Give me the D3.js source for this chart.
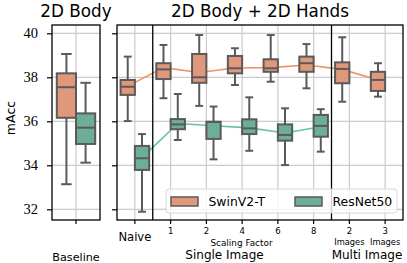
<!DOCTYPE html>
<html><head><meta charset="utf-8">
<script src="https://cdn.jsdelivr.net/npm/d3@7"></script>
<style>body{margin:0;background:#fff}svg{display:block}text{font-family:"DejaVu Sans",sans-serif}</style>
</head><body><svg id="c" width="407" height="263"></svg>
<script>
// ---- data ----
const series = ["SwinV2-T", "ResNet50"];
const baselineCats = ["Baseline"];
const cats = ["Naive", "1", "2", "4", "6", "8", "2 Images", "3 Images"];
const yTicks = [32, 34, 36, 38, 40];
// [whisker low, q1, median, q3, whisker high]
const swinBaseline = [33.14, 36.16, 37.55, 38.18, 39.06];
const resnetBaseline = [34.12, 34.97, 35.71, 36.36, 37.75];
const swinBoxes = [
  [36.01, 37.20, 37.57, 37.88, 38.94],
  [37.05, 37.92, 38.36, 38.64, 39.47],
  [36.70, 37.75, 38.00, 39.06, 39.92],
  [37.65, 38.18, 38.41, 38.97, 39.32],
  [37.80, 38.25, 38.41, 38.82, 39.92],
  [37.50, 38.25, 38.64, 38.94, 39.51],
  [36.89, 37.73, 38.38, 38.68, 39.82],
  [37.12, 37.38, 37.88, 38.25, 38.64]
];
const resnetBoxes = [
  [31.89, 33.79, 34.32, 34.88, 35.42],
  [35.15, 35.64, 35.86, 36.10, 37.24],
  [34.27, 35.20, 35.97, 35.98, 36.67],
  [34.66, 35.42, 35.68, 36.09, 37.09],
  [34.01, 35.12, 35.38, 35.86, 36.59],
  [34.62, 35.30, 35.79, 36.29, 36.55],
  null, null
];
const swinMean = [37.60, 38.44, 38.22, 38.42, 38.44, 38.56, 38.36, 37.88];
const resnetMean = [34.35, 35.90, 35.80, 35.70, 35.47, 35.75];

// ---- styles ----
const fill = {"SwinV2-T": "#e0987c", "ResNet50": "#6cae98"};
const lineCol = {"SwinV2-T": "#f0906a", "ResNet50": "#66c2a5"};
const edge = "#5a5a5a";
const gridCol = "#cccccc";

const svg = d3.select("#c");
const pTop = 25, pBottom = 220;
const y = d3.scaleLinear().domain([32, 40]).range([209.3, 33.3]);

const x1 = d3.scaleBand().domain(baselineCats).range([52, 100]).padding(0);
const x2 = d3.scaleBand().domain(cats).range([117, 403]).padding(0);

function hueScale(bw) { return d3.scaleBand().domain(series).range([0.1 * bw, 0.9 * bw]).padding(0); }

function panel(x, x0, x1r) {
  const g = svg.append("g");
  g.selectAll(".hg").data(yTicks).join("line")
    .attr("x1", x0).attr("x2", x1r).attr("y1", d => y(d)).attr("y2", d => y(d))
    .attr("stroke", gridCol).attr("stroke-width", 1.2);
  g.selectAll(".vg").data(x.domain()).join("line")
    .attr("x1", d => x(d) + x.bandwidth() / 2).attr("x2", d => x(d) + x.bandwidth() / 2)
    .attr("y1", pTop).attr("y2", pBottom).attr("stroke", gridCol).attr("stroke-width", 1.2);
  return g;
}
const g1 = panel(x1, 52, 100);
const g2 = panel(x2, 117, 403);

function drawBox(g, cx, w, s, color) {
  if (!s) return;
  const [lo, q1, md, q3, hi] = s;
  const cw = w * 0.55;
  g.append("line").attr("x1", cx).attr("x2", cx).attr("y1", y(hi)).attr("y2", y(q3)).attr("stroke", edge).attr("stroke-width", 2);
  g.append("line").attr("x1", cx).attr("x2", cx).attr("y1", y(q1)).attr("y2", y(lo)).attr("stroke", edge).attr("stroke-width", 2);
  g.append("line").attr("x1", cx - cw / 2).attr("x2", cx + cw / 2).attr("y1", y(hi)).attr("y2", y(hi)).attr("stroke", edge).attr("stroke-width", 2);
  g.append("line").attr("x1", cx - cw / 2).attr("x2", cx + cw / 2).attr("y1", y(lo)).attr("y2", y(lo)).attr("stroke", edge).attr("stroke-width", 2);
  g.append("rect").attr("x", cx - w / 2).attr("y", y(q3)).attr("width", w).attr("height", y(q1) - y(q3))
    .attr("fill", color).attr("stroke", edge).attr("stroke-width", 2);
  g.append("line").attr("x1", cx - w / 2).attr("x2", cx + w / 2).attr("y1", y(md)).attr("y2", y(md)).attr("stroke", edge).attr("stroke-width", 2);
}

{
  const bw = x1.bandwidth(), h = hueScale(bw);
  const c = baselineCats[0];
  drawBox(g1, x1(c) + h("SwinV2-T") + h.bandwidth() / 2, h.bandwidth(), swinBaseline, fill["SwinV2-T"]);
  drawBox(g1, x1(c) + h("ResNet50") + h.bandwidth() / 2, h.bandwidth(), resnetBaseline, fill["ResNet50"]);
}
{
  const bw = x2.bandwidth(), h = hueScale(bw);
  const cxs = s => d => x2(d) + h(s) + h.bandwidth() / 2;
  const line = (s, vals) => d3.line().x((v, i) => cxs(s)(cats[i])).y(v => y(v))(vals);
  g2.append("path").attr("d", line("SwinV2-T", swinMean)).attr("fill", "none").attr("stroke", lineCol["SwinV2-T"]).attr("stroke-width", 1.6);
  g2.append("path").attr("d", line("ResNet50", resnetMean)).attr("fill", "none").attr("stroke", lineCol["ResNet50"]).attr("stroke-width", 1.6);
  cats.forEach((c, i) => {
    drawBox(g2, cxs("SwinV2-T")(c), h.bandwidth(), swinBoxes[i], fill["SwinV2-T"]);
    drawBox(g2, cxs("ResNet50")(c), h.bandwidth(), resnetBoxes[i], fill["ResNet50"]);
  });
  [cats[1], cats[6]].forEach(c => {
    g2.append("line").attr("x1", x2(c)).attr("x2", x2(c)).attr("y1", pTop).attr("y2", pBottom).attr("stroke", "#000").attr("stroke-width", 1.3);
  });
}

[[52, 100], [117, 403]].forEach(([a, b]) => {
  svg.append("rect").attr("x", a).attr("y", pTop).attr("width", b - a).attr("height", pBottom - pTop)
    .attr("fill", "none").attr("stroke", "#000").attr("stroke-width", 1.3);
});

const yAxL = svg.append("g").attr("transform", "translate(52,0)")
  .call(d3.axisLeft(y).tickValues(yTicks).tickSize(5).tickPadding(9).tickFormat(d3.format("d")));
yAxL.select(".domain").remove();
yAxL.selectAll("line").attr("stroke", "#000").attr("stroke-width", 1.2);
yAxL.selectAll("text").style("font-family", "'Liberation Serif',serif").style("font-size", "14.5px").attr("fill", "#000");
const yAxR = svg.append("g").attr("transform", "translate(117,0)")
  .call(d3.axisLeft(y).tickValues(yTicks).tickSize(5).tickFormat(""));
yAxR.select(".domain").remove();
yAxR.selectAll("line").attr("stroke", "#000").attr("stroke-width", 1.2);

const xAx1 = svg.append("g").attr("transform", `translate(0,${pBottom})`).call(d3.axisBottom(x1).tickSize(4).tickFormat(""));
const xAx2 = svg.append("g").attr("transform", `translate(0,${pBottom})`).call(d3.axisBottom(x2).tickSize(4).tickFormat(""));
[xAx1, xAx2].forEach(a => { a.select(".domain").remove(); a.selectAll("line").attr("stroke", "#000").attr("stroke-width", 1.2); });

const cx = c => x2(c) + x2.bandwidth() / 2;
svg.append("text").attr("x", cx("Naive")).attr("y", 241).attr("text-anchor", "middle").style("font-size", "11.6px").text("Naive");
svg.append("text").attr("x", x1("Baseline") + x1.bandwidth() / 2).attr("y", 261).attr("text-anchor", "middle").style("font-size", "11.2px").text("Baseline");
["1", "2", "4", "6", "8"].forEach(c => {
  svg.append("text").attr("x", cx(c)).attr("y", 234).attr("text-anchor", "middle").style("font-size", "8.5px").text(c);
});
["2 Images", "3 Images"].forEach(c => {
  const [n, w] = c.split(" ");
  svg.append("text").attr("x", cx(c)).attr("y", 234).attr("text-anchor", "middle").style("font-size", "8.5px").text(n);
  svg.append("text").attr("x", cx(c)).attr("y", 245).attr("text-anchor", "middle").style("font-size", "8.3px").text(w);
});
svg.append("text").attr("x", 241.5).attr("y", 245.5).attr("text-anchor", "middle").style("font-size", "8.9px").text("Scaling Factor");
svg.append("text").attr("x", 224.5).attr("y", 259).attr("text-anchor", "middle").style("font-size", "12px").text("Single Image");
svg.append("text").attr("x", 367).attr("y", 259).attr("text-anchor", "middle").style("font-size", "12px").text("Multi Image");

svg.append("text").attr("x", 76).attr("y", 17).attr("text-anchor", "middle").style("font-size", "16.8px").text("2D Body");
svg.append("text").attr("x", 260).attr("y", 17).attr("text-anchor", "middle").style("font-size", "16.8px").text("2D Body + 2D Hands");
svg.append("text").attr("transform", "translate(15,118) rotate(-90)").attr("text-anchor", "middle").style("font-size", "12.5px").text("mAcc");

const lg = svg.append("g");
lg.append("rect").attr("x", 166).attr("y", 189).attr("width", 231).attr("height", 24).attr("rx", 3)
  .attr("fill", "#fff").attr("fill-opacity", 0.8).attr("stroke", "#d6d6d6").attr("stroke-width", 1);
const lx = {"SwinV2-T": 171, "ResNet50": 295};
series.forEach(s => {
  lg.append("rect").attr("x", lx[s]).attr("y", 197).attr("width", 27).attr("height", 9)
    .attr("fill", fill[s]).attr("stroke", edge).attr("stroke-width", 1.5);
  lg.append("text").attr("x", lx[s] + 37.5).attr("y", 206).style("font-size", "12.4px").text(s);
});
</script></body></html>
